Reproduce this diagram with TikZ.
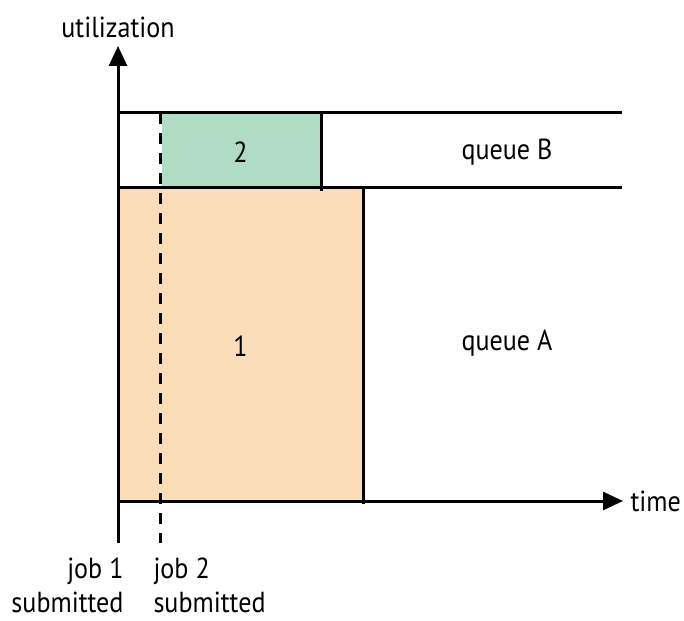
\documentclass[tikz,border=0pt]{standalone}
\usepackage{fontspec}
\setmainfont{PT Sans}[FakeStretch=0.9]
\usetikzlibrary{arrows.meta}
\definecolor{jobone}{RGB}{252,221,186}
\definecolor{jobtwo}{RGB}{176,220,195}
\begin{document}
\begin{tikzpicture}[x=1pt,y=-1pt,line width=3pt,
    every node/.style={font=\fontsize{29}{34}\selectfont,inner sep=0pt},
    axis/.style={-{Triangle[length=20pt,width=18pt]}},
    jobbox/.style={anchor=north west,minimum width=#1}]
    \useasboundingbox (0,0) rectangle (684,620);
    % jobs
    \node[jobbox=242pt,fill=jobone,minimum height=313pt] (job1) at (118,188) {};
    \node[jobbox=158pt,fill=jobtwo,minimum height=75pt] (job2) at (160,113) {};
    \draw (job1.north east) -- (job1.south east);
    \draw (job2.north east) -- (job2.south east);
    % queues
    \coordinate (btop) at (118,113);
    \coordinate (bend) at (622,113);
    \coordinate (atop) at (118,188);
    \coordinate (aend) at (622,188);
    \draw (btop) -- (bend);
    \draw (atop) -- (aend);
    % axes
    \coordinate (origin) at (118,501);
    \coordinate (ytip) at (118,46);
    \coordinate (xtip) at (623,501);
    \coordinate (foot1) at (118,543);
    \coordinate (foot2) at (160,543);
    \draw[axis] (foot1) -- (ytip);
    \draw[axis] (origin) -- (xtip);
    \draw[dash pattern=on 11pt off 9pt] (job2.north west) -- (foot2);
    % labels
    \node (num1) at (job1.center) {1};
    \node (num2) at (job2.center) {2};
    \node (qa) at (507,343) {queue A};
    \node (qb) at (507,152) {queue B};
    \node (util) at (118,27) {utilization};
    \node[anchor=west] (time) at (629,501) {time};
    \node[anchor=east,align=right] (sub1) at (125,585) {job 1\\submitted};
    \node[anchor=west,align=left] (sub2) at (152,585) {job 2\\submitted};
\end{tikzpicture}
\end{document}
